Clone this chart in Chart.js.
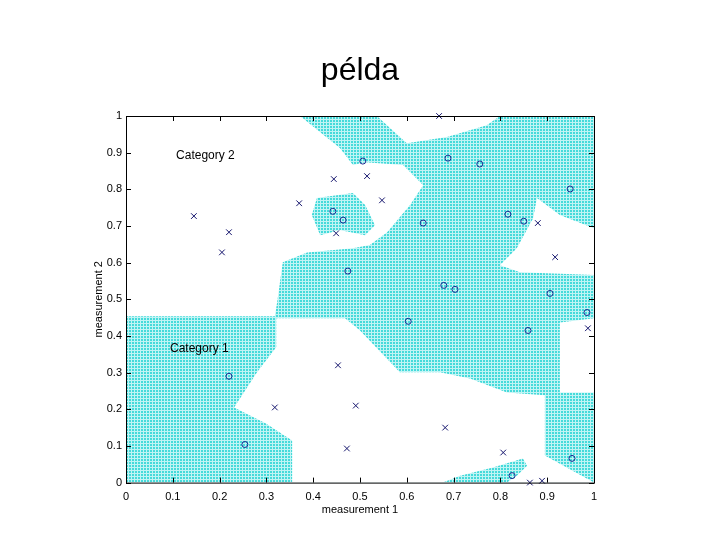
<!DOCTYPE html>
<html><head><meta charset="utf-8">
<script src="https://cdn.jsdelivr.net/npm/chart.js@4.4.1/dist/chart.umd.min.js"></script>
<style>body{margin:0;background:#fff}</style>
</head><body>
<canvas id="c" width="720" height="540"></canvas>
<script>
const xTicks=[0,0.1,0.2,0.3,0.4,0.5,0.6,0.7,0.8,0.9,1];
const yTicks=[0,0.1,0.2,0.3,0.4,0.5,0.6,0.7,0.8,0.9,1];
// region outlines (cyan base, white holes, cyan islands)
const regionBase=[[0,0],[0,1],[1,1],[1,0]];
const whiteLeft=[[0,1],[0.372,1],[0.415,0.956],[0.457,0.913],[0.485,0.866],[0.511,0.874],[0.592,0.866],[0.635,0.811],[0.607,0.757],[0.558,0.683],[0.521,0.648],[0.485,0.639],[0.387,0.628],[0.335,0.601],[0.323,0.492],[0.318,0.454],[0,0.454]];
const islandMid=[[0.408,0.776],[0.485,0.790],[0.511,0.757],[0.532,0.702],[0.511,0.675],[0.457,0.689],[0.415,0.675],[0.397,0.730]];
const whiteTop=[[0.536,1],[0.600,0.926],[0.686,0.943],[0.771,0.975],[0.799,1]];
const whiteRight=[[0.878,0.776],[0.927,0.730],[1,0.694],[1,0.566],[0.842,0.574],[0.799,0.593],[0.835,0.639],[0.870,0.721]];
const whiteNotch=[[0.927,0.437],[1,0.448],[1,0.246],[0.927,0.246]];
const whiteBowl=[[0.321,0.448],[0.468,0.448],[0.5,0.415],[0.585,0.301],[0.671,0.301],[0.735,0.284],[0.814,0.246],[0.895,0.238],[0.895,0.074],[1,0],[0.355,0],[0.355,0.115],[0.299,0.161],[0.231,0.205],[0.280,0.301],[0.321,0.369]];
const islandBottom=[[0.677,0],[0.714,0.019],[0.784,0.041],[0.848,0.066],[0.857,0.046],[0.835,0.019],[0.814,0]];
// samples
const crossX=[0.669,0.145,0.220,0.205,0.370,0.444,0.515,0.547,0.449,0.453,0.491,0.472,0.318,0.682,0.806,0.863,0.889,0.880,0.917,0.987];
const crossY=[1.0,0.727,0.683,0.628,0.762,0.828,0.836,0.770,0.680,0.320,0.210,0.093,0.205,0.150,0.082,0,0.005,0.708,0.615,0.421];
const circX=[0.506,0.442,0.464,0.474,0.688,0.756,0.949,0.816,0.850,0.635,0.679,0.703,0.906,0.603,0.859,0.985,0.953,0.825,0.220,0.254];
const circY=[0.877,0.740,0.716,0.577,0.885,0.869,0.801,0.732,0.713,0.708,0.538,0.527,0.516,0.440,0.415,0.464,0.066,0.019,0.290,0.104];
const labels=[{t:'Category 2',x:0.107,y:0.893},{t:'Category 1',x:0.094,y:0.366}];

const pc=document.createElement('canvas');pc.width=3;pc.height=3;
const p=pc.getContext('2d');p.fillStyle='#c0f4f4';p.fillRect(0,0,3,3);p.fillStyle='#45dada';p.fillRect(0,0,2,2);
const ctx0=document.getElementById('c').getContext('2d');
const pattern=ctx0.createPattern(pc,'repeat');

function poly(pts,fillStyle,order){return {data:pts.map(a=>({x:a[0],y:a[1]})),showLine:true,fill:'shape',backgroundColor:fillStyle,borderWidth:0,borderColor:'rgba(0,0,0,0)',pointRadius:0,order:order,tension:0};}
const pointsOf=(xs,ys)=>xs.map((v,i)=>({x:v,y:ys[i]}));
const FONT='"Liberation Sans", Arial';

const deco={id:'deco',afterDraw(ch){
  const c=ch.ctx,a=ch.chartArea,xs=ch.scales.x,ys=ch.scales.y;
  c.save();c.strokeStyle='#000';c.lineWidth=1;
  c.strokeRect(a.left+0.5,a.top+0.5,a.right-a.left,a.bottom-a.top);
  c.beginPath();
  xTicks.forEach(v=>{const px=Math.round(xs.getPixelForValue(v))+0.5;c.moveTo(px,a.bottom);c.lineTo(px,a.bottom-5);c.moveTo(px,a.top);c.lineTo(px,a.top+5);});
  yTicks.forEach(v=>{const py=Math.round(ys.getPixelForValue(v))+0.5;c.moveTo(a.left,py);c.lineTo(a.left+5,py);c.moveTo(a.right,py);c.lineTo(a.right-5,py);});
  c.stroke();
  c.fillStyle='#000';c.font='12px '+FONT;c.textBaseline='middle';
  labels.forEach(l=>c.fillText(l.t,xs.getPixelForValue(l.x),ys.getPixelForValue(l.y)));
  c.font='32px '+FONT;c.textAlign='center';c.textBaseline='alphabetic';c.fillText('példa',360,80);
  c.save();c.translate(99,(a.top+a.bottom)/2);c.rotate(-Math.PI/2);c.textAlign='center';c.textBaseline='middle';c.font='11px '+FONT;c.fillText('measurement 2',0,0);c.restore();
  c.restore();
}};

new Chart(ctx0,{type:'scatter',data:{datasets:[
  poly(regionBase,pattern,20),
  poly(whiteLeft,'#ffffff',19),
  poly(islandMid,pattern,18),
  poly(whiteTop,'#ffffff',17),
  poly(whiteRight,'#ffffff',17),
  poly(whiteNotch,'#ffffff',17),
  poly(whiteBowl,'#ffffff',17),
  poly(islandBottom,pattern,16),
  {data:pointsOf(crossX,crossY),pointStyle:'crossRot',pointRadius:4,borderColor:'#16166e',borderWidth:1,showLine:false,order:1,clip:false},
  {data:pointsOf(circX,circY),pointStyle:'circle',pointRadius:3,borderColor:'#1a2a90',backgroundColor:'rgba(0,0,0,0)',borderWidth:1,showLine:false,order:1,clip:false}
]},options:{responsive:false,animation:false,
  layout:{padding:{left:0,right:126,top:116,bottom:23}},
  plugins:{legend:{display:false},tooltip:{enabled:false},title:{display:false}},
  scales:{
    x:{type:'linear',min:0,max:1,afterBuildTicks:s=>{s.ticks=xTicks.map(v=>({value:v}));},
      ticks:{color:'#000',font:{family:FONT,size:11},padding:0,callback:v=>String(+v.toFixed(1))},
      grid:{display:false},border:{display:false},
      title:{display:true,text:'measurement 1',color:'#000',font:{family:FONT,size:11},padding:0}},
    y:{type:'linear',min:0,max:1,afterBuildTicks:s=>{s.ticks=yTicks.map(v=>({value:v}));},
      ticks:{color:'#000',font:{family:FONT,size:11},padding:4,callback:v=>String(+v.toFixed(1))},
      grid:{display:false,tickLength:0},border:{display:false},afterFit:s=>{s.width=126;},
      title:{display:false}}
  }},plugins:[deco]});
</script></body></html>
